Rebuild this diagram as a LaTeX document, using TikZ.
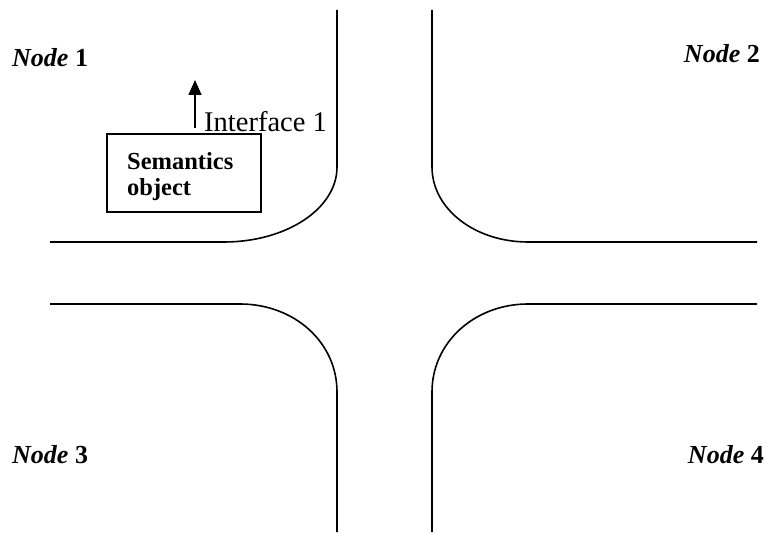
\documentclass[tikz,border=0pt]{standalone}
\usepackage{fontspec}
\setmainfont{Liberation Serif}
\usetikzlibrary{arrows.meta}
\tikzset{
  road/.style={line width=1.6pt, line cap=butt},
  nodelabel/.style={anchor=base west, inner sep=0pt, font=\fontsize{26}{30}\selectfont},
  semtext/.style={anchor=base west, inner sep=0pt, font=\fontsize{24.5}{28}\selectfont\bfseries},
  iflabel/.style={anchor=base west, inner sep=0pt, font=\fontsize{28.5}{32}\selectfont},
  objbox/.style={draw, line width=1.4pt, minimum width=154pt, minimum height=78pt, inner sep=0pt},
  ifarrow/.style={line width=1.5pt, -{Triangle[length=15pt,width=13pt]}}
}
\begin{document}
\begin{tikzpicture}[x=1pt,y=-1pt]
\useasboundingbox (0,0) rectangle (766,534);
% roads
\draw[road] (337,10) -- (337,167) .. controls (337,209) and (286,242) .. (224,242) -- (50,242);
\draw[road] (432,10) -- (432,167) .. controls (432,209) and (475,242) .. (528,242) -- (757,242);
\draw[road] (50,304) -- (240,304) .. controls (294,304) and (337,342) .. (337,392) -- (337,532);
\draw[road] (757,304) -- (528,304) .. controls (475,304) and (432,342) .. (432,392) -- (432,532);
% labels
\node[nodelabel] (n1) at (12,67) {\textbf{\textit{Node}} \textbf{1}};
\node[nodelabel, anchor=base east] (n2) at (760,63) {\textbf{\textit{Node}} \textbf{2}};
\node[nodelabel] (n3) at (12,464) {\textbf{\textit{Node}} \textbf{3}};
\node[nodelabel, anchor=base east] (n4) at (764,464) {\textbf{\textit{Node}} \textbf{4}};
% semantics object
\node[objbox] (sem) at (184,173) {};
\node[semtext] (semA) at (127,170) {Semantics};
\node[semtext] (semB) at (127,196) {object};
% interface
\coordinate (ifoot) at (195,128);
\coordinate (itip) at (195,80);
\draw[ifarrow] (ifoot) -- (itip);
\node[iflabel] (iface) at (204,132) {Interface 1};
\end{tikzpicture}
\end{document}
